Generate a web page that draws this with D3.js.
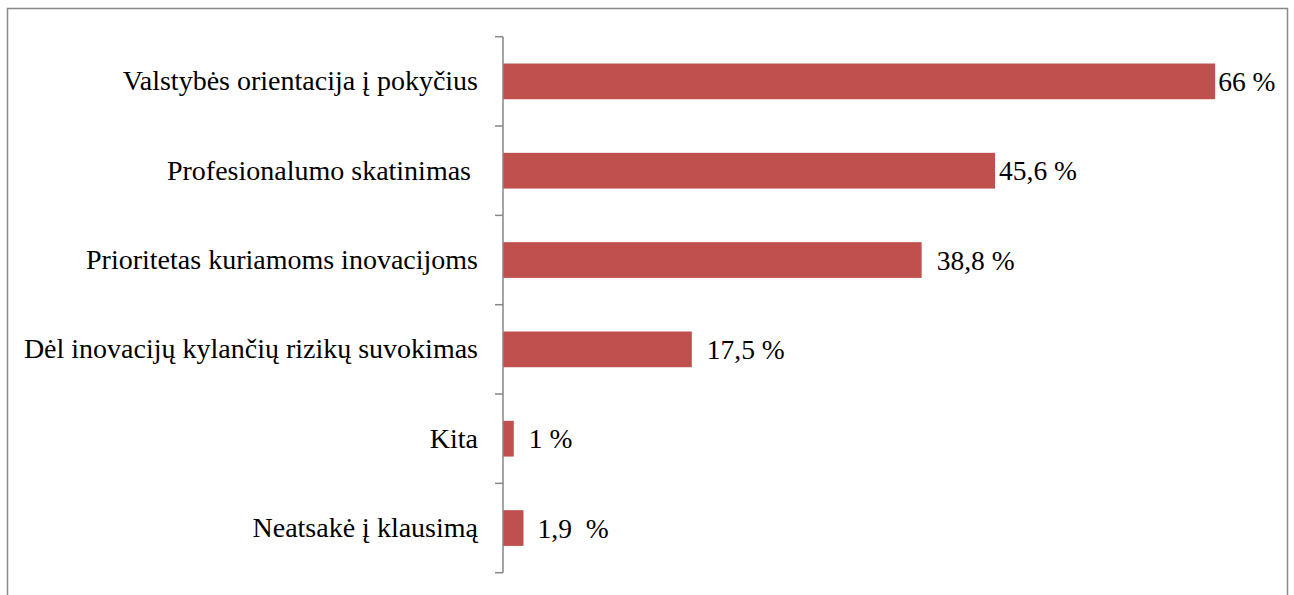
<!DOCTYPE html>
<html>
<head>
<meta charset="utf-8">
<script src="https://cdn.jsdelivr.net/npm/d3@7"></script>
<style>
  html, body { margin: 0; padding: 0; background: #ffffff; }
  svg { display: block; }
</style>
</head>
<body>
<svg id="chart" width="1294" height="595"></svg>
<script>
// Survey answers (percent of respondents)
const categories = [
  "Valstybės orientacija į pokyčius",
  "Profesionalumo skatinimas ",
  "Prioritetas kuriamoms inovacijoms",
  "Dėl inovacijų kylančių rizikų suvokimas",
  "Kita",
  "Neatsakė į klausimą"
];
const values = [66, 45.6, 38.8, 17.5, 1, 1.9];
const valueLabels = ["66 %", "45,6 %", "38,8 %", "17,5 %", "1 %", "1,9  %"];

const FONT = "'Liberation Serif', 'Times New Roman', 'DejaVu Serif', serif";
const svg = d3.select("#chart");

// outer frame
svg.append("rect")
  .attr("x", 7.5).attr("y", 8.5)
  .attr("width", 1280).attr("height", 600)
  .attr("fill", "#fff")
  .attr("stroke", "#898989")
  .attr("stroke-width", 1.5);

const axisX = 503;
const x = d3.scaleLinear().domain([0, 70]).range([axisX, axisX + 755.3]);
const y = d3.scaleBand().domain(categories).range([36.7, 572.7]).paddingInner(0).paddingOuter(0);
const step = y.step();
const barH = step * 0.4;

// bars
svg.append("g").selectAll("rect")
  .data(categories)
  .join("rect")
  .attr("x", axisX)
  .attr("y", d => y(d) + (step - barH) / 2)
  .attr("width", (d, i) => x(values[i]) - axisX)
  .attr("height", barH)
  .attr("fill", "#C0504D");

// category axis with ticks on band boundaries
const axisG = svg.append("g");
axisG.append("line")
  .attr("x1", axisX).attr("x2", axisX)
  .attr("y1", y.range()[0]).attr("y2", y.range()[1])
  .attr("stroke", "#868686").attr("stroke-width", 1.5);
const bounds = categories.map(c => y(c)).concat([y.range()[1]]);
axisG.selectAll("line.tick")
  .data(bounds)
  .join("line")
  .attr("class", "tick")
  .attr("x1", axisX - 8).attr("x2", axisX)
  .attr("y1", d => d).attr("y2", d => d)
  .attr("stroke", "#868686").attr("stroke-width", 1.5);

// category labels
svg.append("g").selectAll("text")
  .data(categories)
  .join("text")
  .attr("xml:space", "preserve")
  .attr("x", 478)
  .attr("y", d => y(d) + step / 2 + 9)
  .attr("text-anchor", "end")
  .attr("font-family", FONT)
  .attr("font-size", 28)
  .style("white-space", "pre")
  .attr("fill", "#000")
  .text(d => d);

// value labels
const labelGap = [3, 4, 15, 15, 15, 14];
svg.append("g").selectAll("text")
  .data(categories)
  .join("text")
  .attr("xml:space", "preserve")
  .attr("x", (d, i) => x(values[i]) + labelGap[i])
  .attr("y", d => y(d) + step / 2 + 9.5)
  .attr("font-family", FONT)
  .attr("font-size", 27.5)
  .style("white-space", "pre")
  .attr("fill", "#000")
  .text((d, i) => valueLabels[i]);
</script>
</body>
</html>
